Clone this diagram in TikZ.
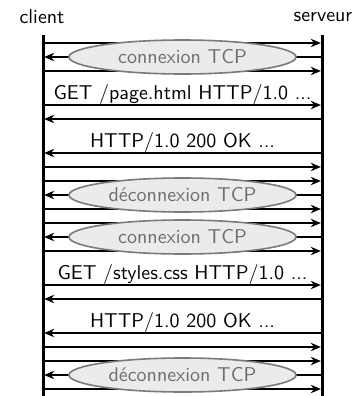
\documentclass[tikz,border=0pt]{standalone}
\usetikzlibrary{arrows.meta,shapes.geometric}
\definecolor{bubblefill}{HTML}{EBEBEB}
\definecolor{bubbleline}{HTML}{7A7A7A}
\definecolor{bubbletext}{HTML}{6E6E6E}
\begin{document}
\begin{tikzpicture}[x=0.5pt,y=-0.5pt,font=\sffamily,
  lifeline/.style={line width=1.5pt},
  msg/.style={line width=1pt,-{Stealth[length=5pt,width=4.2pt,inset=1.6pt]},shorten >=0.6pt},
  msglabel/.style={anchor=base,inner sep=0pt},
  phase/.style={ellipse,draw=bubbleline,line width=0.8pt,fill=bubblefill,
    text=bubbletext,minimum width=113.5pt,minimum height=17pt,inner sep=0pt},
  party/.style={inner sep=0pt}]
\useasboundingbox (0,0) rectangle (354,396);

% the two parties and their life lines
\node[party] (client) at (42,16.5) {client};
\node[party] (serveur) at (323,16.5) {serveur};
\coordinate (ctop) at (43,35);
\coordinate (cbot) at (43,397);
\coordinate (stop) at (322,35);
\coordinate (sbot) at (322,397);
\draw[lifeline] (ctop) -- (cbot);
\draw[lifeline] (stop) -- (sbot);

% messages: r = client to serveur, l = serveur to client
\foreach \y/\d in {43/r,57/l,71/r,105/r,119/l,153/l,167/r,181/r,195/l,209/r,
                   223/r,237/l,251/r,285/r,299/l,333/l,347/r,361/r,375/l,389/r}{
  \coordinate (c\y) at (43,\y);
  \coordinate (s\y) at (322,\y);
  \if r\d
    \draw[msg] (c\y) -- (s\y);
  \else
    \draw[msg] (s\y) -- (c\y);
  \fi
}

% request and response texts
\node[msglabel] (get1) at (182.5,99) {GET /page.html HTTP/1.0 ...};
\node[msglabel] (ok1) at (182.5,147) {HTTP/1.0 200 OK ...};
\node[msglabel] (get2) at (182.5,279) {GET /styles.css HTTP/1.0 ...};
\node[msglabel] (ok2) at (182.5,327) {HTTP/1.0 200 OK ...};

% TCP handshakes
\node[phase] (open1) at (182.5,57) {connexion TCP};
\node[phase] (close1) at (182.5,195) {déconnexion TCP};
\node[phase] (open2) at (182.5,237) {connexion TCP};
\node[phase] (close2) at (182.5,375) {déconnexion TCP};
\end{tikzpicture}
\end{document}
